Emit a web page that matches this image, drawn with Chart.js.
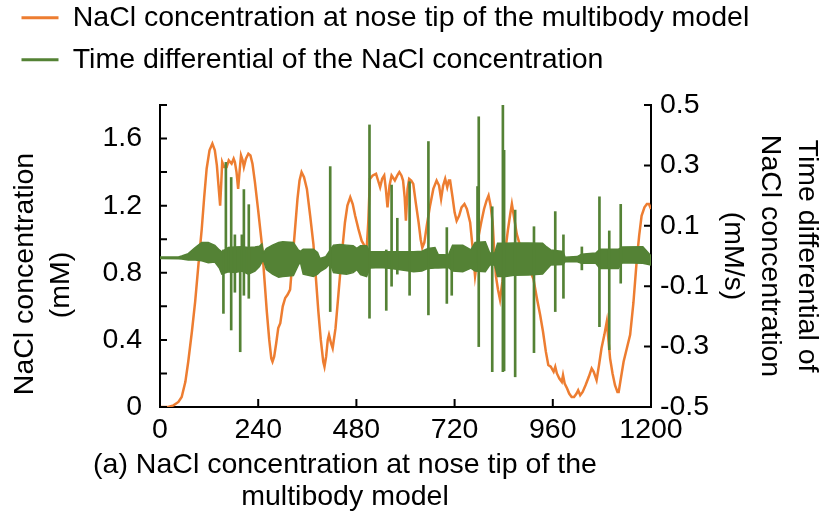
<!DOCTYPE html>
<html>
<head>
<meta charset="utf-8">
<script src="https://cdn.jsdelivr.net/npm/chart.js@4.4.1/dist/chart.umd.min.js"></script>
<style>
  html, body { margin: 0; padding: 0; background: #fff; }
  #chart { display: block; }
</style>
</head>
<body>
<canvas id="chart" width="822" height="519"></canvas>
<script>
// NaCl concentration at the nose tip (mM)
const concTime = [0, 20, 33, 45, 53, 62, 69, 78, 86, 94, 102, 108, 114, 121, 128, 134, 139, 143, 147, 150,
  152, 157, 163, 168, 175, 180, 183, 187, 191, 195, 198, 202, 205, 210, 216, 221, 226, 232, 240, 249,
  255, 261, 267, 272, 275, 279, 284, 289, 294, 300, 306, 312, 318, 324, 330, 336, 341, 346, 352, 359,
  367, 375, 381, 387, 393, 399, 402, 406, 410, 413, 418, 422, 429, 436, 444, 452, 458, 465, 471, 477,
  485, 493, 500, 505, 509, 513, 520, 528, 533, 538, 543, 548, 552, 556, 561, 566, 574, 580, 585, 590,
  594, 598, 601, 605, 609, 614, 619, 625, 632, 637, 641, 646, 652, 660, 668, 676, 682, 687, 692, 697,
  702, 706, 709, 715, 720, 725, 731, 737, 744, 750, 758, 764, 770, 774, 778, 785, 792, 798, 803, 808,
  813, 817, 821, 826, 831, 837, 843, 850, 856, 860, 866, 872, 880, 890, 900, 907, 913, 921, 929, 936,
  943, 949, 955, 962, 966, 970, 976, 982, 985, 989, 995, 1000, 1006, 1012, 1018, 1022, 1027, 1033, 1040, 1048,
  1055, 1060, 1067, 1073, 1079, 1086, 1092, 1096, 1100, 1106, 1112, 1118, 1121, 1127, 1133, 1141, 1149, 1157, 1165, 1171,
  1177, 1184, 1190, 1195, 1200];
const concValue = [0, 0, 0.01, 0.03, 0.06, 0.15, 0.27, 0.45, 0.63, 0.85, 1.06, 1.25, 1.42, 1.53, 1.57, 1.53, 1.44, 1.32, 1.20, 1.35,
  1.46, 1.43, 1.43, 1.47, 1.45, 1.48, 1.46, 1.40, 1.30, 1.42, 1.50, 1.47, 1.43, 1.48, 1.51, 1.50, 1.45, 1.34, 1.17, 0.97,
  0.77, 0.57, 0.40, 0.29, 0.27, 0.30, 0.38, 0.47, 0.50, 0.60, 0.65, 0.67, 0.70, 0.88, 1.06, 1.24, 1.35, 1.40, 1.37, 1.30,
  1.14, 0.97, 0.77, 0.57, 0.40, 0.27, 0.24, 0.30, 0.40, 0.43, 0.38, 0.35, 0.47, 0.67, 0.90, 1.10, 1.20, 1.25, 1.21, 1.14,
  1.06, 0.99, 0.96, 0.94, 1.10, 1.36, 1.38, 1.39, 1.35, 1.31, 1.36, 1.38, 1.30, 1.19, 1.32, 1.38, 1.35, 1.38, 1.40, 1.38,
  1.35, 1.25, 1.11, 1.30, 1.36, 1.35, 1.33, 1.22, 1.10, 1.00, 0.95, 0.98, 1.08, 1.20, 1.30, 1.35, 1.32, 1.24, 1.32, 1.36,
  1.31, 1.35, 1.35, 1.25, 1.16, 1.11, 1.14, 1.19, 1.21, 1.18, 1.10, 0.95, 0.78, 0.85, 1.01, 1.10, 1.18, 1.23, 1.26, 1.20,
  1.10, 0.92, 0.78, 0.70, 0.64, 0.75, 0.91, 1.05, 1.15, 1.21, 1.12, 1.03, 0.96, 0.90, 0.84, 0.80, 0.76, 0.65, 0.55, 0.45,
  0.33, 0.25, 0.24, 0.21, 0.24, 0.20, 0.17, 0.15, 0.19, 0.14, 0.11, 0.08, 0.06, 0.06, 0.08, 0.10, 0.07, 0.09, 0.13, 0.18,
  0.23, 0.21, 0.16, 0.25, 0.35, 0.43, 0.51, 0.40, 0.29, 0.20, 0.13, 0.09, 0.09, 0.18, 0.27, 0.35, 0.43, 0.62, 0.87, 1.02,
  1.14, 1.19, 1.21, 1.21, 1.18];

// time differential (mM/s): upper and lower edge of the dense oscillation band
const bandTime = [0, 45, 53, 69, 86, 102, 118, 134, 145, 151, 167, 183, 200, 216, 232, 243, 249, 253, 260, 275,
  290, 300, 326, 338, 343, 350, 375, 385, 391, 405, 416, 424, 440, 456, 472, 481, 490, 505, 513, 540,
  570, 600, 620, 640, 655, 672, 680, 705, 715, 740, 760, 770, 795, 806, 818, 825, 845, 865, 900, 935,
  945, 955, 985, 990, 1020, 1030, 1065, 1075, 1120, 1130, 1180, 1200];
const bandUpper = [-0.003, -0.003, 0, 0.008, 0.028, 0.045, 0.045, 0.035, 0.020, 0.014, 0.028, 0.030, 0.031, 0.028, 0.030, 0.032, 0.040, 0.010, 0.025, 0.036,
  0.045, 0.047, 0.045, 0.020, 0.015, 0.022, 0.022, 0.012, -0.008, -0.002, 0.020, 0.036, 0.038, 0.036, 0.034, 0.025, 0.034, 0.034, 0.014, 0.014,
  0.014, 0.014, 0.014, 0.016, 0.025, 0.028, 0.005, 0.003, 0.036, 0.036, 0.020, 0.045, 0.047, 0.010, 0.010, 0.042, 0.042, 0.043, 0.043, 0.042,
  0.030, 0.020, 0.015, -0.004, -0.002, 0.006, 0.010, 0.022, 0.022, 0.030, 0.031, 0];
const bandLower = [-0.008, -0.009, -0.010, -0.013, -0.013, -0.016, -0.022, -0.020, -0.040, -0.060, -0.052, -0.055, -0.050, -0.060, -0.050, -0.035, -0.020, -0.015, -0.045, -0.060,
  -0.070, -0.068, -0.065, -0.030, -0.020, -0.060, -0.068, -0.060, -0.052, -0.040, -0.025, -0.055, -0.058, -0.060, -0.055, -0.045, -0.062, -0.068, -0.040, -0.038,
  -0.042, -0.048, -0.052, -0.050, -0.041, -0.040, -0.040, -0.038, -0.050, -0.052, -0.040, -0.050, -0.052, -0.030, -0.030, -0.068, -0.068, -0.064, -0.063, -0.060,
  -0.045, -0.030, -0.028, -0.019, -0.019, -0.024, -0.024, -0.041, -0.041, -0.022, -0.024, -0.030];

// isolated spikes of the time differential (mM/s)
const spikeTime = [155, 161, 174, 183, 196, 200, 205, 217, 416, 512, 553, 566, 580, 610, 656, 701, 713, 776, 779, 812,
  838, 841, 868, 914, 966, 986, 1031, 1074, 1098, 1126];
const spikeLow = [-0.19, -0.05, -0.245, -0.12, -0.317, -0.05, -0.13, -0.14, -0.184, -0.206, -0.18, -0.10, -0.06, -0.13, -0.195, -0.157, -0.13, -0.02, -0.30, -0.383,
  -0.383, -0.38, -0.40, -0.32, -0.184, -0.14, -0.046, -0.234, -0.31, -0.09];
const spikeHigh = [0.02, 0.31, 0.26, 0.07, 0.02, 0.07, 0.22, 0.17, 0.296, 0.434, 0.02, 0.235, 0.125, 0.246, 0.379, 0.094, 0.02, 0.23, 0.461, 0.163,
  0.50, 0.35, 0.152, 0.097, 0.147, 0.07, 0.03, 0.196, 0.083, 0.171];

const xTicks = [0, 240, 480, 720, 960, 1200];
const leftTicks = [0, 0.2, 0.4, 0.6, 0.8, 1.0, 1.2, 1.4, 1.6, 1.8];
const leftLabels = [0, 0.4, 0.8, 1.2, 1.6];
const rightTicks = [-0.5, -0.3, -0.1, 0.1, 0.3, 0.5];

const legendNames = ['NaCl concentration at nose tip of the multibody model', 'Time differential of the NaCl concentration'];
const leftTitle = ['NaCl concentration', '(mM)'];
const rightTitle = ['Time differential of', 'NaCl concentration', '(mM/s)'];
const caption = ['(a) NaCl concentration at nose tip of the', 'multibody model'];

const ORANGE = '#ED7D31';
const GREEN = '#548235';
const FONT = '"Liberation Sans", Arial, sans-serif';
const FS = 28.5;

Chart.defaults.font.family = FONT;
Chart.defaults.font.size = FS;
Chart.defaults.color = '#000';

const pts = (xs, ys) => xs.map((x, i) => ({ x: x, y: ys[i] }));

// legend box is pushed down so the plot starts where the original does
const legendGap = {
  id: 'legendGap',
  afterInit(chart) {
    const fit = chart.legend.fit;
    chart.legend.fit = function () {
      fit.call(this);
      this.height += 21;
    };
  }
};

// tick marks pointing into the plot
const innerTicks = {
  id: 'innerTicks',
  afterDraw(chart) {
    const { ctx, chartArea: a, scales } = chart;
    ctx.save();
    ctx.strokeStyle = '#000';
    ctx.lineWidth = 2;
    ctx.beginPath();
    scales.x.ticks.forEach(t => {
      const px = scales.x.getPixelForValue(t.value);
      ctx.moveTo(px, a.bottom);
      ctx.lineTo(px, a.bottom - 8);
    });
    scales.y.ticks.forEach(t => {
      const py = scales.y.getPixelForValue(t.value);
      ctx.moveTo(a.left, py);
      ctx.lineTo(a.left + 7, py);
    });
    scales.y1.ticks.forEach(t => {
      const py = scales.y1.getPixelForValue(t.value);
      ctx.moveTo(a.right, py);
      ctx.lineTo(a.right - 7, py);
    });
    ctx.stroke();
    ctx.restore();
  }
};

// caption under the axis and the left axis title
const textBlocks = {
  id: 'textBlocks',
  afterDraw(chart) {
    const { ctx, chartArea: a } = chart;
    ctx.save();
    ctx.fillStyle = '#000';
    ctx.font = FS + 'px ' + FONT;
    ctx.textAlign = 'center';
    ctx.textBaseline = 'alphabetic';
    caption.forEach((line, i) => ctx.fillText(line, a.left + 185, a.bottom + 66 + i * 32));
    const cols = [[a.left - 127, 274], [a.left - 91, 285]];
    leftTitle.forEach((line, i) => {
      ctx.save();
      ctx.translate(cols[i][0], cols[i][1]);
      ctx.rotate(-Math.PI / 2);
      ctx.fillText(line, 0, 0);
      ctx.restore();
    });
    ctx.restore();
  }
};

new Chart(document.getElementById('chart'), {
  type: 'line',
  data: {
    datasets: [
      {
        label: legendNames[0],
        data: pts(concTime, concValue),
        yAxisID: 'y',
        borderColor: ORANGE,
        borderWidth: 2.5,
        pointRadius: 0,
        order: 3,
        inLegend: true
      },
      {
        label: legendNames[1],
        data: pts(bandTime, bandUpper),
        yAxisID: 'y1',
        borderColor: GREEN,
        backgroundColor: GREEN,
        borderWidth: 1.5,
        pointRadius: 0,
        fill: '+1',
        order: 2,
        inLegend: true
      },
      {
        label: 'band lower',
        data: pts(bandTime, bandLower),
        yAxisID: 'y1',
        borderColor: GREEN,
        borderWidth: 1.5,
        pointRadius: 0,
        fill: false,
        order: 2
      },
      {
        type: 'bar',
        label: 'spikes',
        data: spikeTime.map((t, i) => ({ x: t, y: [spikeLow[i], spikeHigh[i]] })),
        yAxisID: 'y1',
        backgroundColor: GREEN,
        barThickness: 2,
        order: 1
      }
    ]
  },
  options: {
    responsive: false,
    animation: false,
    devicePixelRatio: 1,
    layout: { padding: { left: 8, top: -10, right: 0, bottom: 0 } },
    plugins: {
      legend: {
        position: 'top',
        align: 'start',
        labels: {
          boxWidth: 37,
          boxHeight: 3,
          padding: 13.5,
          color: '#000',
          font: { size: FS },
          generateLabels: chart => chart.data.datasets
            .map((ds, i) => ({ ds: ds, i: i }))
            .filter(o => o.ds.inLegend)
            .map(o => ({
              text: o.ds.label,
              fillStyle: o.ds.borderColor,
              strokeStyle: o.ds.borderColor,
              lineWidth: 0,
              fontColor: '#000',
              datasetIndex: o.i
            }))
        }
      },
      tooltip: { enabled: false }
    },
    scales: {
      x: {
        type: 'linear',
        min: 0,
        max: 1200,
        offset: false,
        afterBuildTicks: s => { s.ticks = xTicks.map(v => ({ value: v })); },
        afterFit: s => { s.height = 112; },
        grid: { display: true, drawOnChartArea: false, drawTicks: false },
        border: { display: true, color: '#000', width: 2 },
        ticks: { padding: 6, maxRotation: 0, autoSkip: false, callback: v => String(v) }
      },
      y: {
        position: 'left',
        min: 0,
        max: 1.8,
        afterBuildTicks: s => { s.ticks = leftTicks.map(v => ({ value: v })); },
        afterFit: s => { s.width = 152; },
        grid: { display: true, drawOnChartArea: false, drawTicks: false },
        border: { display: true, color: '#000', width: 2 },
        ticks: {
          padding: 18,
          autoSkip: false,
          callback: v => leftLabels.some(l => Math.abs(l - v) < 1e-6) ? String(+v.toFixed(1)) : ''
        }
      },
      y1: {
        position: 'right',
        min: -0.5,
        max: 0.5,
        afterBuildTicks: s => { s.ticks = rightTicks.map(v => ({ value: v })); },
        afterFit: s => { s.width = 171; },
        grid: { display: true, drawOnChartArea: false, drawTicks: false },
        border: { display: true, color: '#000', width: 2 },
        ticks: { padding: 9, autoSkip: false, callback: v => v.toFixed(1) },
        title: {
          display: true,
          text: rightTitle,
          padding: { top: -3, bottom: 0 },
          font: { size: FS, lineHeight: 1.29 }
        }
      }
    }
  },
  plugins: [legendGap, innerTicks, textBlocks]
});
</script>
</body>
</html>
